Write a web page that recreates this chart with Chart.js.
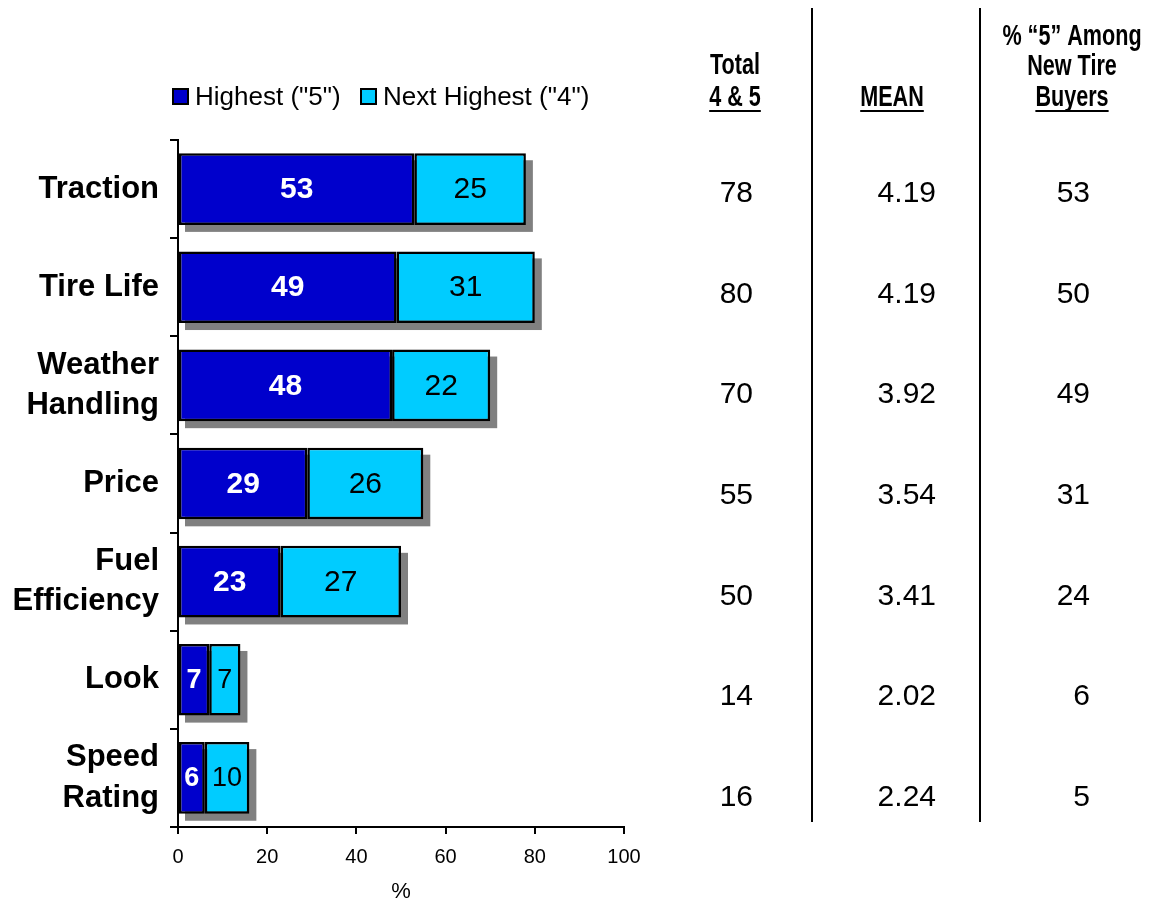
<!DOCTYPE html>
<html>
<head>
<meta charset="utf-8">
<script src="https://cdn.jsdelivr.net/npm/chart.js@4"></script>
<style>
  html, body { margin: 0; padding: 0; background: #fff; }
  canvas { display: block; }
</style>
</head>
<body>
<canvas id="chart" width="1152" height="905"></canvas>
<script>
const categories = [['Traction'], ['Tire Life'], ['Weather', 'Handling'], ['Price'], ['Fuel', 'Efficiency'], ['Look'], ['Speed', 'Rating']]
const highest5 = [53, 49, 48, 29, 23, 7, 6]
const nextHighest4 = [25, 31, 22, 26, 27, 7, 10]
const total45 = [78, 80, 70, 55, 50, 14, 16]
const meanScores = ['4.19', '4.19', '3.92', '3.54', '3.41', '2.02', '2.24']
const newTireBuyers5 = [53, 50, 49, 31, 24, 6, 5]
const legendLabels = ['Highest ("5")', 'Next Highest ("4")']

const DARK = '#0000CC'
const LIGHT = '#00CCFF'
const FONT = '"Liberation Sans", Arial, sans-serif'

// gray drop shadow behind each stacked bar
const shadowPlugin = {
    id: 'shadow',
    beforeDatasetsDraw(chart) {
        const ctx = chart.ctx
        const x = chart.scales.x
        const meta = chart.getDatasetMeta(0)
        ctx.save()
        ctx.fillStyle = '#808080'
        meta.data.forEach((bar, i) => {
            const x0 = x.getPixelForValue(0)
            const x1 = x.getPixelForValue(highest5[i] + nextHighest4[i])
            ctx.fillRect(x0 + 7, bar.y - bar.height / 2 + 7, x1 - x0, bar.height)
        })
        ctx.restore()
    }
}

// values inside the bars
const barLabelPlugin = {
    id: 'barLabels',
    afterDatasetsDraw(chart) {
        const ctx = chart.ctx
        ctx.save()
        ctx.textAlign = 'center'
        ctx.textBaseline = 'middle'
        chart.data.datasets.forEach((ds, d) => {
            chart.getDatasetMeta(d).data.forEach((bar, i) => {
                ctx.fillStyle = d === 0 ? '#fff' : '#000'
                ctx.font = (d === 0 ? 'bold ' : '') + (ds.data[i] < 12 ? '27px ' : '30px ') + FONT
                ctx.fillText(String(ds.data[i]), (bar.x + bar.base) / 2, bar.y + 1)
            })
        })
        ctx.restore()
    }
}

function narrowText(ctx, text, cx, cy, underline) {
    const sx = 0.72
    ctx.save()
    ctx.translate(cx, cy)
    ctx.scale(sx, 1)
    ctx.fillText(text, 0, 0)
    ctx.restore()
    if (underline) {
        const w = ctx.measureText(text).width * sx
        ctx.fillRect(cx - w / 2, cy + 12, w, 2)
    }
}

// legend, right-hand table and divider lines
const tablePlugin = {
    id: 'table',
    afterDraw(chart) {
        const ctx = chart.ctx
        ctx.save()

        // legend
        ctx.font = '26px ' + FONT
        ctx.textBaseline = 'middle'
        ctx.textAlign = 'left'
        const legendX = [172, 360]
        ;[DARK, LIGHT].forEach((c, i) => {
            ctx.fillStyle = '#000'
            ctx.fillRect(legendX[i], 88, 17, 17)
            ctx.fillStyle = c
            ctx.fillRect(legendX[i] + 2, 90, 13, 13)
            ctx.fillStyle = '#000'
            ctx.fillText(legendLabels[i], legendX[i] + 23, 98)
        })

        // header
        ctx.fillStyle = '#000'
        ctx.textAlign = 'center'
        ctx.font = 'bold 30px ' + FONT
        narrowText(ctx, 'Total', 735, 66)
        narrowText(ctx, '4 & 5', 735, 98, true)
        narrowText(ctx, 'MEAN', 892, 98, true)
        narrowText(ctx, '% \u201C5\u201D Among', 1072, 37)
        narrowText(ctx, 'New Tire', 1072, 67)
        narrowText(ctx, 'Buyers', 1072, 98, true)

        // divider lines
        ctx.fillRect(811, 8, 2, 814)
        ctx.fillRect(979, 8, 2, 814)

        // table values
        ctx.font = '30px ' + FONT
        ctx.textAlign = 'right'
        const rowTop = 194, rowStep = 100.6
        total45.forEach((v, i) => {
            const y = rowTop + i * rowStep
            ctx.fillText(String(v), 753, y)
            ctx.fillText(meanScores[i], 936, y)
            ctx.fillText(String(newTireBuyers5[i]), 1090, y)
        })
        ctx.restore()
    }
}

new Chart(document.getElementById('chart').getContext('2d'), {
    type: 'bar',
    data: {
        labels: categories,
        datasets: [
            { label: legendLabels[0], data: highest5, backgroundColor: DARK },
            { label: legendLabels[1], data: nextHighest4, backgroundColor: LIGHT }
        ]
    },
    options: {
        indexAxis: 'y',
        responsive: false,
        animation: false,
        events: [],
        layout: { padding: { top: 140, right: 528, left: 0, bottom: 0 } },
        datasets: {
            bar: {
                borderColor: '#000',
                borderWidth: 2.5,
                borderSkipped: false,
                barPercentage: 0.73,
                categoryPercentage: 1
            }
        },
        plugins: {
            legend: { display: false },
            tooltip: { enabled: false }
        },
        scales: {
            x: {
                stacked: true,
                min: 0,
                max: 100,
                ticks: { stepSize: 20, color: '#000', font: { family: FONT, size: 20 }, padding: 11 },
                grid: { drawOnChartArea: false, tickLength: 7, color: '#000', lineWidth: 2 },
                border: { color: '#000', width: 2 },
                title: { display: true, text: '%', color: '#000', font: { family: FONT, size: 22 }, padding: 0 },
                afterFit(s) { s.height = 78 }
            },
            y: {
                stacked: true,
                ticks: { color: '#000', font: { family: FONT, size: 31, weight: 'bold', lineHeight: 1.3 }, padding: 11 },
                grid: { drawOnChartArea: false, tickLength: 8, color: '#000', lineWidth: 2, offset: true },
                border: { color: '#000', width: 2 },
                afterFit(s) { s.width = 178 }
            }
        }
    },
    plugins: [shadowPlugin, barLabelPlugin, tablePlugin]
})
</script>
</body>
</html>
